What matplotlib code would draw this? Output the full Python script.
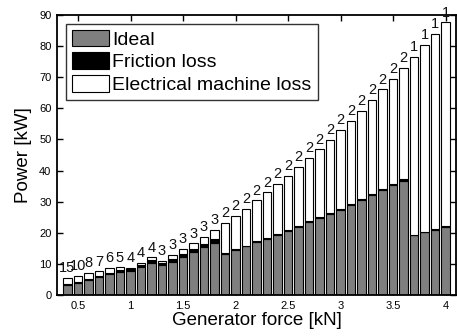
import matplotlib
matplotlib.use("Agg")
import matplotlib.pyplot as plt

plt.rcParams['font.family'] = ['Liberation Sans', 'DejaVu Sans']

force_kN = [0.4, 0.5, 0.6, 0.7, 0.8, 0.9, 1.0, 1.1, 1.2, 1.3, 1.4, 1.5, 1.6, 1.7, 1.8,
            1.9, 2.0, 2.1, 2.2, 2.3, 2.4, 2.5, 2.6, 2.7, 2.8, 2.9, 3.0, 3.1, 3.2, 3.3,
            3.4, 3.5, 3.6, 3.7, 3.8, 3.9, 4.0]
ideal_kW = [3.2, 4.0, 4.9, 5.8, 6.7, 7.4, 7.7, 8.9, 10.4, 9.5, 10.7, 12.2, 13.7, 15.3, 16.8,
            13.2, 14.4, 15.6, 16.9, 18.1, 19.3, 20.6, 21.9, 23.4, 24.7, 26.0, 27.4, 28.9, 30.4, 32.0,
            33.6, 35.2, 36.8, 19.2, 20.1, 21.0, 22.0]
friction_kW = [0.3, 0.3, 0.4, 0.4, 0.5, 0.5, 0.5, 0.7, 0.8, 0.7, 0.9, 1.0, 1.1, 1.1, 1.2,
               0.3, 0.3, 0.3, 0.3, 0.3, 0.3, 0.3, 0.3, 0.3, 0.4, 0.4, 0.4, 0.4, 0.4, 0.4,
               0.4, 0.4, 0.4, 0.1, 0.1, 0.1, 0.1]
electrical_kW = [1.9, 1.8, 1.7, 1.4, 1.5, 1.0, 0.6, 0.7, 0.9, 0.8, 1.2, 1.5, 1.8, 2.3, 2.9,
                 9.7, 10.8, 11.9, 13.2, 14.6, 16.1, 17.5, 19.0, 20.4, 21.7, 23.4, 25.2, 26.7, 28.5, 30.3,
                 32.1, 33.9, 35.9, 57.3, 60.1, 62.8, 65.5]
bar_labels = ['15', '10', '8', '7', '6', '5', '4', '4', '4', '3', '3', '3', '3', '3', '3',
              '2', '2', '2', '2', '2', '2', '2', '2', '2', '2', '2', '2', '2', '2', '2',
              '2', '2', '2', '1', '1', '1', '1']

fig = plt.figure(figsize=(4.57, 3.36), dpi=100)
ax = fig.add_axes([57/457, 1 - 295/336, 399/457, 280/336])

w = 0.08
ax.bar(force_kN, ideal_kW, width=w, color='#7f7f7f', edgecolor='black', linewidth=0.8,
       label='Ideal', zorder=2)
bottom2 = [a for a in ideal_kW]
ax.bar(force_kN, friction_kW, width=w, bottom=bottom2, color='black', edgecolor='black',
       linewidth=0.8, label='Friction loss', zorder=2)
bottom3 = [a + b for a, b in zip(ideal_kW, friction_kW)]
ax.bar(force_kN, electrical_kW, width=w, bottom=bottom3, color='white', edgecolor='black',
       linewidth=0.8, label='Electrical machine loss', zorder=2)

for x, b, e, lab in zip(force_kN, bottom3, electrical_kW, bar_labels):
    ax.annotate(lab, (x, b + e), xytext=(0, 2), textcoords='offset points',
                ha='center', va='bottom', fontsize=10.5, clip_on=False, color='#111111')

ax.set_xlim(0.3, 4.1)
ax.set_ylim(0, 90)
ax.set_xticks([0.5, 1, 1.5, 2, 2.5, 3, 3.5, 4])
ax.set_xticklabels(['0.5', '1', '1.5', '2', '2.5', '3', '3.5', '4'])
ax.set_yticks(range(0, 91, 10))
ax.tick_params(direction='in', length=4, width=1, labelsize=8, top=True, right=True, pad=4)
for s in ax.spines.values():
    s.set_linewidth(1.3)

ax.set_xlabel('Generator force [kN]', fontsize=13.5, labelpad=1)
ax.set_ylabel('Power [kW]', fontsize=13.5, labelpad=5)

leg = ax.legend(loc='upper left', fontsize=14, frameon=True, fancybox=False,
                edgecolor='black', handlelength=1.9, handleheight=0.93, borderpad=0.3,
                labelspacing=0.2, handletextpad=0.2, borderaxespad=0.45)
leg.get_frame().set_linewidth(1.0)

fig.savefig('out.png', dpi=100)
